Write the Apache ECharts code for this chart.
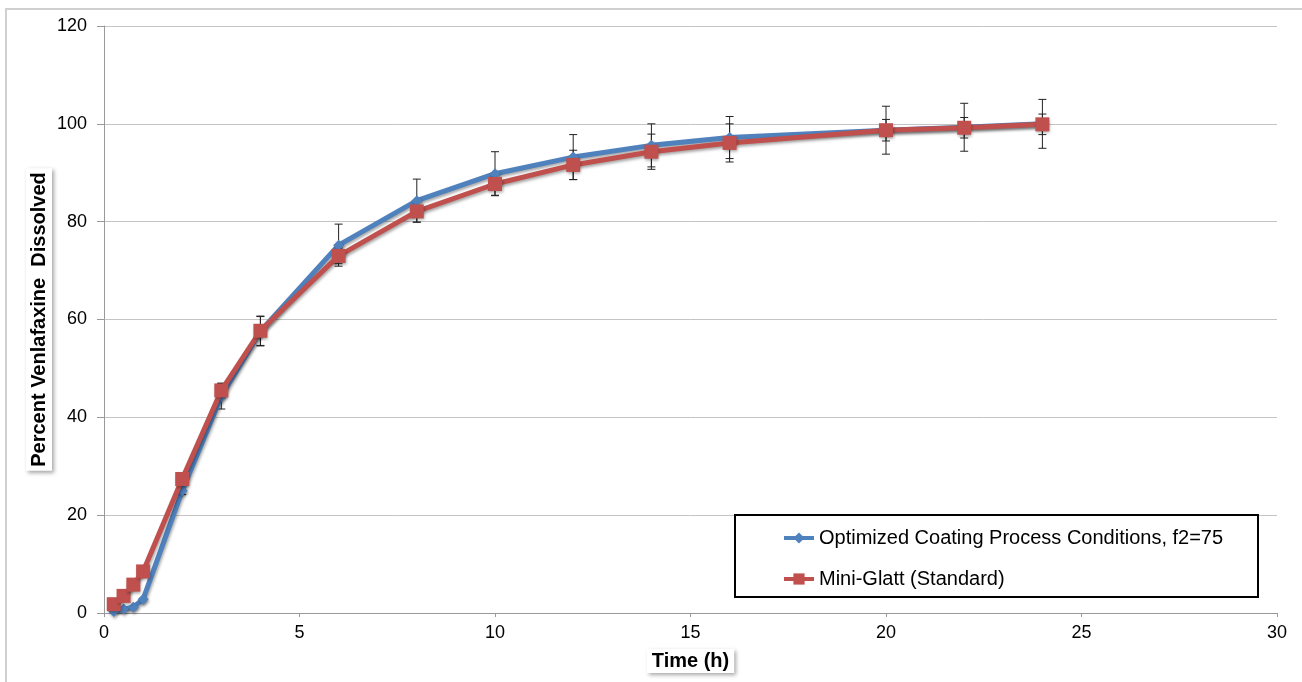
<!DOCTYPE html>
<html>
<head>
<meta charset="utf-8">
<script src="https://cdn.jsdelivr.net/npm/echarts@6/dist/echarts.min.js"></script>
<style>
  html, body { margin: 0; padding: 0; background: #fff; }
  #chart { width: 1302px; height: 682px; }
</style>
</head>
<body>
<div id="chart"></div>
<script>
// sampling times (h)
const times = [0.25, 0.5, 0.75, 1, 2, 3, 4, 6, 8, 10, 12, 14, 16, 20, 22, 24];
// percent dissolved
const optimized = [0.3, 0.8, 1.2, 2.8, 25.0, 44.3, 57.6, 75.2, 84.3, 89.8, 93.2, 95.6, 97.2, 98.7, 99.3, 100.0];
const miniGlatt = [1.8, 3.5, 5.8, 8.5, 27.4, 45.5, 57.7, 73.0, 82.1, 87.7, 91.6, 94.3, 96.1, 98.7, 99.2, 99.9];
// standard deviations
const optimizedSd = [0, 0, 0, 0, 0.8, 2.6, 3.0, 4.3, 4.4, 4.5, 4.6, 4.4, 4.3, 4.9, 4.9, 5.0];
const miniGlattSd = [0, 0, 0, 0, 1.0, 1.5, 3.0, 1.6, 2.2, 2.3, 3.0, 3.6, 3.9, 2.2, 2.1, 2.1];

const yTicks = [0, 20, 40, 60, 80, 100, 120];
const xTicks = [0, 5, 10, 15, 20, 25, 30];

const BLUE = '#4F81BD';
const RED = '#C0504D';

const chart = echarts.init(document.getElementById('chart'));

const pairs = (xs, ys) => xs.map((x, i) => [x, ys[i]]);
const errRows = (xs, ys, sd) => xs.map((x, i) => [x, ys[i] - sd[i], ys[i] + sd[i]]).filter(r => r[2] > r[1]);

function renderErr(params, api) {
    const lo = api.coord([api.value(0), api.value(1)]);
    const hi = api.coord([api.value(0), api.value(2)]);
    const w = 4;
    const st = {stroke: '#222', lineWidth: 1};
    return {
        type: 'group',
        children: [
            {type: 'line', shape: {x1: lo[0], y1: lo[1], x2: hi[0], y2: hi[1]}, style: st},
            {type: 'line', shape: {x1: lo[0] - w, y1: lo[1], x2: lo[0] + w, y2: lo[1]}, style: st},
            {type: 'line', shape: {x1: hi[0] - w, y1: hi[1], x2: hi[0] + w, y2: hi[1]}, style: st}
        ]
    };
}

const shadow = {shadowColor: 'rgba(0,0,0,0.35)', shadowBlur: 3, shadowOffsetX: 1, shadowOffsetY: 2};

chart.setOption({
    animation: false,
    textStyle: {fontFamily: 'Liberation Sans, Arial, sans-serif'},
    grid: {left: 104, right: 25, top: 26, bottom: 69},
    graphic: [
        {type: 'rect', shape: {x: 6, y: 9, width: 1500, height: 900}, style: {fill: 'none', stroke: '#d0d0d0', lineWidth: 2}, silent: true},
        {type: 'rect', shape: {x: 735, y: 515, width: 523, height: 82}, style: {fill: '#fff', stroke: '#000', lineWidth: 2}, z: 50, silent: true}
    ],
    legend: {
        orient: 'vertical',
        left: 782,
        top: 528,
        padding: 0,
        itemWidth: 30,
        itemHeight: 14,
        itemGap: 21,
        z: 60,
        lineStyle: {width: 4},
        textStyle: {fontSize: 20, color: '#000', fontFamily: 'Liberation Sans, Arial, sans-serif'},
        data: ['Optimized Coating Process Conditions, f2=75', 'Mini-Glatt (Standard)']
    },
    xAxis: {
        type: 'value',
        min: 0,
        max: 30,
        interval: 5,
        name: 'Time (h)',
        nameLocation: 'middle',
        nameGap: 36,
        nameMoveOverlap: false,
        nameTextStyle: {
            fontSize: 20, fontWeight: 'bold', color: '#000',
            backgroundColor: '#fff', padding: [2, 5, 2, 5],
            shadowColor: 'rgba(0,0,0,0.35)', shadowBlur: 4, shadowOffsetX: 2, shadowOffsetY: 2
        },
        axisLine: {lineStyle: {color: '#999', width: 1}},
        axisTick: {show: true, length: 4, lineStyle: {color: '#999'}},
        axisLabel: {fontSize: 18, color: '#000', margin: 11, formatter: v => xTicks.includes(v) ? String(v) : ''},
        splitLine: {show: false}
    },
    yAxis: {
        type: 'value',
        min: 0,
        max: 120,
        interval: 20,
        name: 'Percent Venlafaxine  Dissolved',
        nameLocation: 'middle',
        nameRotate: 90,
        nameGap: 52,
        nameMoveOverlap: false,
        nameTextStyle: {
            fontSize: 20, fontWeight: 'bold', color: '#000',
            backgroundColor: '#fff', padding: [3, 4, 3, 4],
            shadowColor: 'rgba(0,0,0,0.35)', shadowBlur: 4, shadowOffsetX: 2, shadowOffsetY: 2
        },
        axisLine: {show: true, lineStyle: {color: '#999', width: 1}},
        axisTick: {show: true, length: 7, lineStyle: {color: '#999'}},
        axisLabel: {fontSize: 18, color: '#000', margin: 17, formatter: v => yTicks.includes(v) ? String(v) : ''},
        splitLine: {show: true, lineStyle: {color: '#c4c4c4', width: 1}}
    },
    series: [
        {
            type: 'custom',
            name: 'optSd',
            renderItem: renderErr,
            data: errRows(times, optimized, optimizedSd),
            encode: {x: 0, y: [1, 2]},
            z: 1,
            silent: true
        },
        {
            type: 'custom',
            name: 'mgSd',
            renderItem: renderErr,
            data: errRows(times, miniGlatt, miniGlattSd),
            encode: {x: 0, y: [1, 2]},
            z: 1,
            silent: true
        },
        {
            name: 'Optimized Coating Process Conditions, f2=75',
            type: 'line',
            data: pairs(times, optimized),
            symbol: 'diamond',
            symbolSize: 11,
            color: BLUE,
            lineStyle: Object.assign({width: 5, color: BLUE}, shadow),
            itemStyle: Object.assign({color: BLUE}, shadow),
            z: 3
        },
        {
            name: 'Mini-Glatt (Standard)',
            type: 'line',
            data: pairs(times, miniGlatt),
            symbol: 'rect',
            symbolSize: 14,
            color: RED,
            lineStyle: Object.assign({width: 5, color: RED}, shadow),
            itemStyle: Object.assign({color: RED}, shadow),
            z: 4
        }
    ]
});
</script>
</body>
</html>
